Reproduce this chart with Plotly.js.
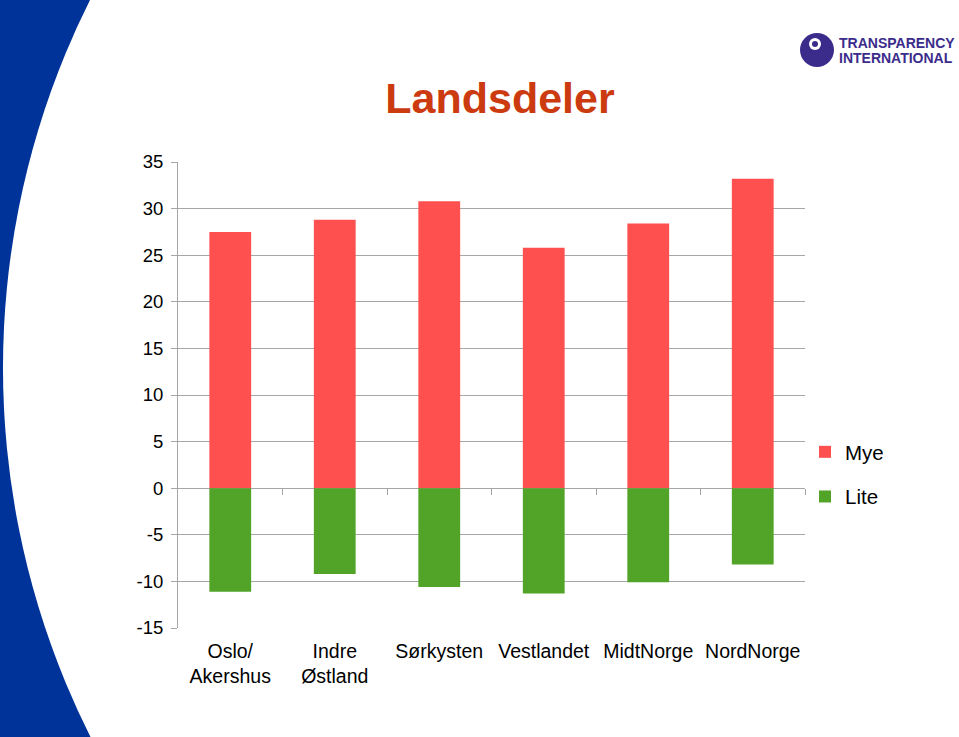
<!DOCTYPE html>
<html>
<head>
<meta charset="utf-8">
<script src="https://cdn.plot.ly/plotly-3.0.1.min.js"></script>
<style>html,body{margin:0;padding:0;background:#fff;}#chart{width:959px;height:737px;}</style>
</head>
<body>
<div id="chart"></div>
<script>
var categories = ["Oslo/<br>Akershus", "Indre<br>Østland", "Sørkysten", "Vestlandet", "MidtNorge", "NordNorge"];
var myeValues = [27.5, 28.8, 30.8, 25.8, 28.4, 33.2];
var liteValues = [-11.1, -9.2, -10.6, -11.3, -10.1, -8.2];
var yTicks = [-15, -10, -5, 0, 5, 10, 15, 20, 25, 30, 35];
var yTickText = ["-15", "-10", "-5", "0", "5", "10", "15", "20", "25", "30", "35"];
var boundaryTicks = [0.5, 1.5, 2.5, 3.5, 4.5, 5.5];

var FONT = "Liberation Sans, Arial, sans-serif";
var grid = "#A6A6A6";

var traces = [
  {type: "bar", name: "Mye", x: categories, y: myeValues, marker: {color: "#FF5050"}, width: 0.4, legendgroup: "a"},
  {type: "bar", name: "Lite", x: categories, y: liteValues, marker: {color: "#52A428"}, width: 0.4, legendgroup: "b"},
  {type: "scatter", mode: "none", x: boundaryTicks, y: [0, 0, 0, 0, 0, 0], xaxis: "x2", yaxis: "y",
   showlegend: false, hoverinfo: "skip"}
];

// plot area in pixels: x 178..805, y 162..628
function px(x) { return (x - 178) / 627; }
function py(y) { return (628 - y) / 466; }

var layout = {
  width: 959, height: 737,
  margin: {l: 178, r: 154, t: 162, b: 109},
  paper_bgcolor: "#003399",
  plot_bgcolor: "rgba(0,0,0,0)",
  barmode: "relative",
  font: {family: FONT, color: "#000"},
  title: {text: "<b>Landsdeler</b>", font: {family: FONT, size: 43, color: "#CC3A10"},
          x: 500/959, xanchor: "center", y: (737-98)/737, yanchor: "middle"},
  xaxis: {type: "category", range: [-0.5, 5.5], showgrid: false, showline: false, ticks: "",
          tickfont: {size: 19.5, color: "#000"}, ticklabelstandoff: 9, fixedrange: true},
  xaxis2: {overlaying: "x", anchor: "free", position: 0.3, range: [-0.5, 5.5], type: "linear",
           tickmode: "array", tickvals: boundaryTicks, ticks: "outside", ticklen: 6,
           tickcolor: grid, showticklabels: false, showgrid: false, showline: false, zeroline: false},
  yaxis: {range: [-15, 35], tickmode: "array", tickvals: yTicks, ticktext: yTickText,
          showgrid: true, gridcolor: grid, gridwidth: 1,
          zeroline: true, zerolinecolor: grid, zerolinewidth: 1,
          showline: true, linecolor: grid, linewidth: 1, ticks: "outside", ticklen: 6, tickcolor: grid,
          tickfont: {size: 18.5, color: "#000"}, ticklabelstandoff: 4},
  legend: {x: px(805), xanchor: "left", y: py(432), yanchor: "top", bgcolor: "rgba(0,0,0,0)",
           font: {size: 20.5, color: "#000"}, tracegroupgap: 15, traceorder: "grouped"},
  showlegend: true,
  shapes: [
    {type: "circle", xref: "paper", yref: "paper", layer: "below",
     x0: px(3), x1: px(1646.6), y0: py(1189.8), y1: py(-453.8),
     fillcolor: "#FFFFFF", line: {width: 0}},
    {type: "circle", xref: "paper", yref: "paper", layer: "above",
     x0: px(800), x1: px(834), y0: py(67), y1: py(33),
     fillcolor: "#3B2C8C", line: {width: 0}},
    {type: "circle", xref: "paper", yref: "paper", layer: "above",
     x0: px(809), x1: px(821), y0: py(50), y1: py(38),
     fillcolor: "#FFFFFF", line: {width: 0}},
    {type: "circle", xref: "paper", yref: "paper", layer: "above",
     x0: px(812), x1: px(818), y0: py(47), y1: py(41),
     fillcolor: "#3B2C8C", line: {width: 0}}
  ],
  annotations: [
    {xref: "paper", yref: "paper", x: px(837), y: py(43), xanchor: "left", yanchor: "middle", showarrow: false,
     text: "<b>TRANSPARENCY</b>", font: {family: FONT, size: 14, color: "#3B2C8C"}},
    {xref: "paper", yref: "paper", x: px(837), y: py(58), xanchor: "left", yanchor: "middle", showarrow: false,
     text: "<b>INTERNATIONAL</b>", font: {family: FONT, size: 14, color: "#3B2C8C"}}
  ]
};

Plotly.newPlot("chart", traces, layout, {displayModeBar: false, staticPlot: true});
</script>
</body>
</html>
